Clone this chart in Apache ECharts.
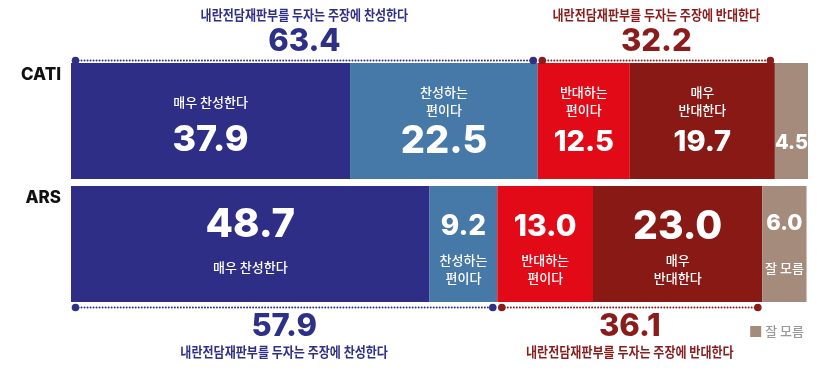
<!DOCTYPE html>
<html>
<head>
<meta charset="utf-8">
<script src="https://cdn.jsdelivr.net/npm/echarts@6/dist/echarts.min.js"></script>
<style>html,body{margin:0;padding:0;background:#fff}#c{width:831px;height:381px}</style>
</head>
<body>
<div id="c"></div>
<script>
// ---- data ----
const rows = ['CATI', 'ARS'];
const segNames = ['매우 찬성한다', '찬성하는 편이다', '반대하는 편이다', '매우 반대한다', '잘 모름'];
const catiValues = [37.9, 25.5, 12.5, 19.7, 4.5];          // bar lengths as drawn
const catiLabels = ['37.9', '22.5', '12.5', '19.7', '4.5']; // numbers printed on the bars
const arsValues = [48.7, 9.2, 13.0, 23.0, 6.0];
const arsLabels = ['48.7', '9.2', '13.0', '23.0', '6.0'];
const catiNameText = ['매우 찬성한다', '찬성하는\n편이다', '반대하는\n편이다', '매우\n반대한다', ''];
const arsNameText = ['매우 찬성한다', '찬성하는\n편이다', '반대하는\n편이다', '매우\n반대한다', '잘 모름'];
const catiSummary = ['63.4', '32.2'];
const arsSummary = ['57.9', '36.1'];
const summaryText = ['내란전담재판부를 두자는 주장에 찬성한다', '내란전담재판부를 두자는 주장에 반대한다'];

// ---- styles ----
const segColors = ['#2e2e86', '#4679a7', '#e30a17', '#881915', '#a48b7c'];
const sumColors = ['#2e3087', '#8a1c1c'];
const catiValSize = [36, 38, 29, 29, 20];
const arsValSize = [40, 28, 30, 39, 22];
const NUMFONT = 'Inter, Roboto, sans-serif';
const KFONT = '"Noto Sans CJK KR", sans-serif';

function labelFor(row, i) {
  const isCati = row === 0;
  const name = (isCati ? catiNameText : arsNameText)[i];
  const val = (isCati ? catiLabels : arsLabels)[i];
  const vs = (isCati ? catiValSize : arsValSize)[i];
  const twoLine = name.indexOf('\n') >= 0;
  let nLH, vLH, off, fmt;
  if (isCati) {
    if (!name) { fmt = '{v|' + val + '}'; nLH = 20; vLH = 30; off = [0, 22]; }
    else {
      fmt = '{n|' + name + '}\n{v|' + val + '}';
      if (twoLine) { nLH = 18; vLH = 46; off = [0, 3]; } else { nLH = 38; vLH = 38; off = [0, 0]; }
    }
  } else {
    fmt = '{v|' + val + '}\n{n|' + name + '}';
    if (twoLine) { vLH = 48; nLH = 18; off = [0, 1]; }
    else if (i === 0) { vLH = 42; nLH = 42; off = [0, 2]; }
    else { vLH = 48; nLH = 42; off = [0, 0]; }
  }
  return {
    show: true, position: 'inside', offset: off,
    formatter: fmt,
    rich: {
      n: { color: '#fff', fontSize: 13, fontFamily: KFONT, fontWeight: 500, lineHeight: nLH, align: 'center' },
      v: { color: '#fff', fontSize: vs, fontFamily: NUMFONT, fontWeight: 800, lineHeight: vLH, align: 'center' }
    }
  };
}

const barSeries = segNames.map((nm, i) => ({
  name: nm, type: 'bar', stack: 'all', barWidth: 116,
  itemStyle: { color: segColors[i] },
  emphasis: { disabled: true },
  data: [
    { value: catiValues[i], label: labelFor(0, i) },
    { value: arsValues[i], label: labelFor(1, i) }
  ]
}));

// brackets computed from cumulative sums
function cum(arr, n) { let s = 0; for (let k = 0; k < n; k++) s += arr[k]; return s; }
const brackets = [
  { s: 0, e: cum(catiValues, 2), row: 0, side: 0, num: catiSummary[0], txt: summaryText[0], col: sumColors[0] },
  { s: cum(catiValues, 2), e: cum(catiValues, 4), row: 0, side: 1, num: catiSummary[1], txt: summaryText[1], col: sumColors[1] },
  { s: 0, e: cum(arsValues, 2), row: 1, side: 0, num: arsSummary[0], txt: summaryText[0], col: sumColors[0] },
  { s: cum(arsValues, 2), e: cum(arsValues, 4), row: 1, side: 1, num: arsSummary[1], txt: summaryText[1], col: sumColors[1] }
];

const bracketSeries = {
  type: 'custom', name: 'bracket', z: 10, silent: true,
  encode: { x: [0, 1], y: 2 },
  data: brackets.map(b => [b.s, b.e, b.row]),
  renderItem: function (params, api) {
    const b = brackets[params.dataIndex];
    const p0 = api.coord([api.value(0), api.value(2)]);
    const p1 = api.coord([api.value(1), api.value(2)]);
    const top = b.row === 0;
    const y = top ? p0[1] - 60.5 : p0[1] + 63.5;
    const x0 = p0[0] + 4.5, x1 = p1[0] - 4.5;
    const cx = (x0 + x1) / 2;
    const numY = top ? y - 18.5 : y + 19.5;
    const txtY = top ? y - 46 : y + 44.5;
    return {
      type: 'group',
      children: [
        { type: 'line', shape: { x1: x0, y1: y, x2: x1, y2: y },
          style: { stroke: b.col, lineWidth: 2, lineDash: [0.01, 3], lineCap: 'round' } },
        { type: 'circle', shape: { cx: x0, cy: y, r: 3.8 }, style: { fill: b.col } },
        { type: 'circle', shape: { cx: x1, cy: y, r: 3.8 }, style: { fill: b.col } },
        { type: 'text', x: cx, y: numY,
          style: { text: b.num, fill: b.col, fontSize: 31, fontWeight: 800, fontFamily: NUMFONT,
                   align: 'center', verticalAlign: 'middle' } },
        { type: 'text', x: cx, y: txtY, scaleX: 0.86,
          style: { x: 0, y: 0, text: b.txt, fill: b.col, fontSize: 14, fontWeight: 700, fontFamily: KFONT,
                   align: 'center', verticalAlign: 'middle' } }
      ]
    };
  }
};

const chart = echarts.init(document.getElementById('c'), null, { renderer: 'canvas' });
chart.setOption({
  animation: false,
  backgroundColor: '#fff',
  grid: { left: 71, right: 23, top: 59.5, height: 246 },
  legend: {
    data: ['잘 모름'], right: 22, top: 320, icon: 'rect', itemWidth: 11, itemHeight: 11, itemGap: 4,
    selectedMode: false,
    textStyle: { color: '#999', fontSize: 13, fontFamily: KFONT, fontWeight: 500, padding: [0, 0, 0, -1] }
  },
  xAxis: { type: 'value', min: 0, max: 100.1, show: false },
  yAxis: {
    type: 'category', data: rows, inverse: true,
    axisLine: { show: false }, axisTick: { show: false },
    axisLabel: { margin: 10, color: '#111', fontSize: 17, fontWeight: 800, fontFamily: NUMFONT,
                 verticalAlign: 'bottom', lineHeight: 92 }
  },
  series: barSeries.concat([bracketSeries])
});
</script>
</body>
</html>
